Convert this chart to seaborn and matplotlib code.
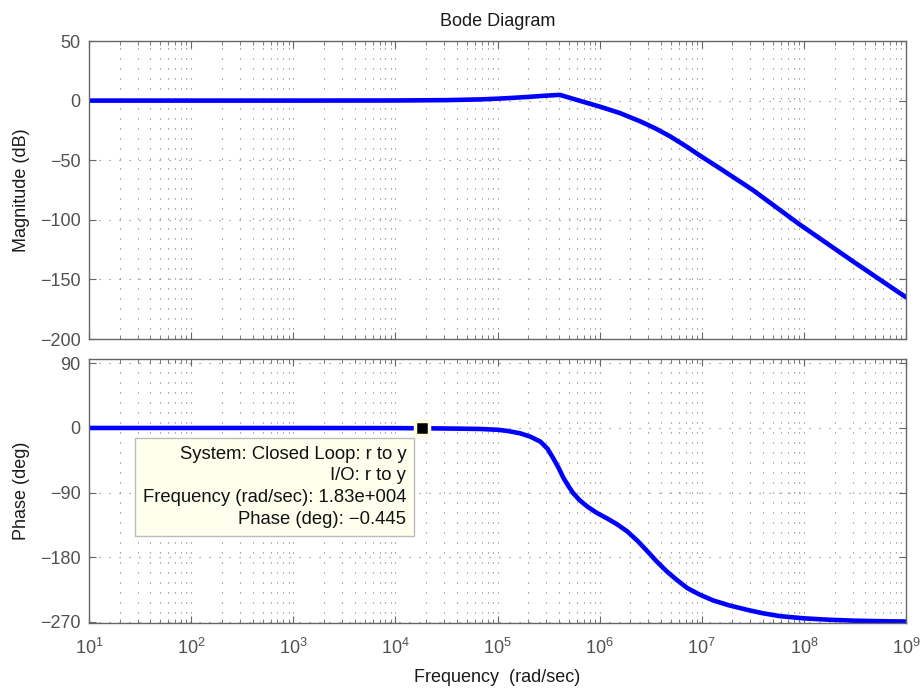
import numpy as np
import pandas as pd
import matplotlib
matplotlib.use("Agg")
import matplotlib.pyplot as plt
import seaborn as sns
from matplotlib.ticker import LogLocator, FixedLocator, NullFormatter, FuncFormatter

# ---- data ----
mag_logw = [1.0, 2.0, 3.0, 4.0, 4.5, 4.83, 5.0, 5.15, 5.3, 5.45, 5.61, 5.8, 6.0, 6.2,
            6.4, 6.55, 6.69, 6.85, 6.98, 7.18, 7.5, 7.96, 8.5, 9.0]
mag_db = [0.0, 0.0, 0.0, 0.1, 0.4, 1.0, 1.6, 2.3, 3.1, 4.0, 4.8, 0.0, -5.0, -10.5,
          -17.5, -23.5, -30.0, -38.5, -46.0, -57.0, -75.0, -104.0, -136.0, -165.0]

ph_logw = [1.0, 3.0, 4.0, 4.26, 4.6, 4.83, 5.0, 5.1, 5.22, 5.32, 5.42, 5.49, 5.545, 5.6,
           5.64, 5.69, 5.74, 5.8, 5.88, 5.97, 6.07, 6.17, 6.27, 6.37, 6.47, 6.56, 6.66,
           6.76, 6.86, 6.98, 7.11, 7.27, 7.44, 7.6, 7.77, 8.0, 8.25, 8.5, 8.75, 9.0]
ph_deg = [0.0, 0.0, -0.2, -0.445, -0.9, -1.4, -2.5, -4.2, -7.4, -12.0, -19.0, -29.0, -42.0, -56.0,
          -68.0, -80.0, -90.5, -100.0, -109.5, -118.0, -125.7, -134.0, -144.0, -157.0, -172.0, -186.0, -200.0,
          -212.0, -223.0, -232.0, -240.0, -247.0, -253.0, -258.0, -262.0, -265.0, -267.0, -268.3, -269.0, -269.5]

x_ticks = [1e1, 1e2, 1e3, 1e4, 1e5, 1e6, 1e7, 1e8, 1e9]
mag_ticks = [50, 0, -50, -100, -150, -200]
ph_ticks = [90, 0, -90, -180, -270]

tip_freq = 1.83e4
tip_phase = -0.445
tip_lines = ["System: Closed Loop: r to y", "I/O: r to y",
             "Frequency (rad/sec): 1.83e+004", "Phase (deg): \u22120.445"]

# ---- style ----
sns.set_style("ticks")
plt.rcParams['font.family'] = ['Liberation Sans', 'DejaVu Sans']
plt.rcParams['mathtext.fontset'] = 'custom'
plt.rcParams['mathtext.rm'] = 'Liberation Sans'
plt.rcParams['mathtext.it'] = 'Liberation Sans'
plt.rcParams['axes.unicode_minus'] = True

mag_df = pd.DataFrame({"w": 10.0 ** np.array(mag_logw), "mag": mag_db})
ph_df = pd.DataFrame({"w": 10.0 ** np.array(ph_logw), "phase": ph_deg})

fig = plt.figure(figsize=(9.21, 6.92), dpi=100)
L, W = 89 / 921, 817 / 921
ax1 = fig.add_axes([L, 1 - 339 / 692, W, 298 / 692])
ax2 = fig.add_axes([L, 1 - 623 / 692, W, 264 / 692])

blue = (0, 0, 1)
sns.lineplot(data=mag_df, x="w", y="mag", ax=ax1, color=blue, lw=3.3, sort=False)
sns.lineplot(data=ph_df, x="w", y="phase", ax=ax2, color=blue, lw=3.3, sort=False)

spine_c = '#666666'
tick_c = '#505050'
lab_c = '#1a1a1a'
FS = 13
grid_kw = dict(color='#777777', linestyle=(0, (1, 8)), linewidth=0.8)

def sup(v, pos):
    e = int(round(np.log10(v)))
    return r'$\mathregular{10^{%d}}$' % e

for ax in (ax1, ax2):
    ax.set_xscale('log')
    ax.set_xlim(1e1, 1e9)
    ax.xaxis.set_major_locator(FixedLocator(x_ticks))
    ax.xaxis.set_minor_locator(LogLocator(base=10, subs=np.arange(2, 10), numticks=100))
    ax.xaxis.set_minor_formatter(NullFormatter())
    ax.grid(True, which='major', axis='both', **grid_kw)
    ax.grid(True, which='minor', axis='x', **grid_kw)
    for s in ax.spines.values():
        s.set_visible(True)
        s.set_color(spine_c)
        s.set_linewidth(1.0)
    ax.tick_params(which='both', direction='in', top=True, right=True, colors=spine_c,
                   labelcolor=tick_c, labelsize=FS)
    ax.tick_params(which='major', length=5)
    ax.tick_params(which='minor', length=3)
    ax.tick_params(axis='y', pad=6)
    ax.set_xlabel('')
    ax.set_ylabel('')

ax1.set_ylim(-200, 50)
ax1.set_yticks(mag_ticks)
ax1.set_yticklabels([str(t).replace('-', '\u2212') for t in mag_ticks])
ax1.tick_params(axis='x', labelbottom=False)
ax1.set_ylabel('Magnitude (dB)', fontsize=FS, color=lab_c)
ax1.yaxis.set_label_coords(-0.072, 0.5)
ax1.set_title('Bode Diagram', fontsize=FS, color=lab_c, pad=11)

ax2.set_ylim(-271.5, 96)
ax2.set_yticks(ph_ticks)
ax2.set_yticklabels([str(t).replace('-', '\u2212') for t in ph_ticks])
ax2.xaxis.set_major_formatter(FuncFormatter(sup))
ax2.tick_params(axis='x', labelsize=FS, pad=11)
ax2.set_ylabel('Phase (deg)', fontsize=FS, color=lab_c)
ax2.yaxis.set_label_coords(-0.072, 0.5)
ax2.set_xlabel('Frequency  (rad/sec)', fontsize=FS, color=lab_c)
ax2.xaxis.set_label_coords(0.5, -0.175)

# data tip
ax2.plot([tip_freq], [tip_phase], marker='s', ms=10, mfc='black', mec='#FFFFDD', mew=2.5,
         zorder=6, clip_on=False)
ax2.annotate("\n".join(tip_lines), xy=(tip_freq, tip_phase), xytext=(-11.5, -12.5),
             textcoords='offset points', ha='right', va='top', multialignment='right',
             fontsize=13.3, color='#111111', linespacing=1.37, zorder=5,
             bbox=dict(boxstyle='square,pad=0.42', fc='#FFFFEE', ec='#BBBBBB', lw=1))

fig.savefig('out.png', dpi=100)
